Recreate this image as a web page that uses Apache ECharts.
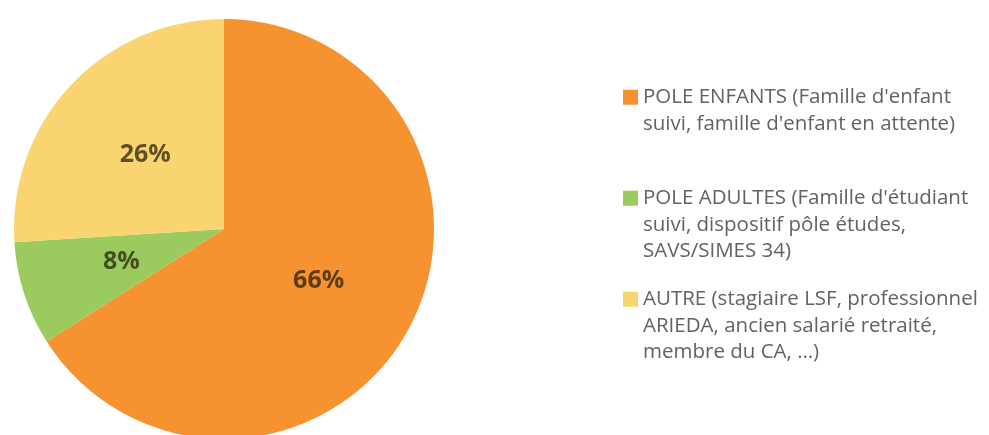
<!DOCTYPE html>
<html><head><meta charset="utf-8">
<script src="https://cdn.jsdelivr.net/npm/echarts@6/dist/echarts.min.js"></script>
<style>html,body{margin:0;padding:0;background:#fff}#c{width:989px;height:435px}</style>
</head><body><div id="c"></div>
<script>
const categories = ['POLE ENFANTS', 'POLE ADULTES', 'AUTRE'];
const legendTexts = [
  "POLE ENFANTS (Famille d'enfant\nsuivi, famille d'enfant en attente)\n ",
  "POLE ADULTES (Famille d'étudiant\nsuivi, dispositif pôle études,\nSAVS/SIMES 34)",
  "AUTRE (stagiaire LSF, professionnel\nARIEDA, ancien salarié retraité,\nmembre du CA, …)"
];
const values = [66, 8, 26];
const colors = ['#F6922F', '#9BCA5E', '#F9D470'];

// legend marker: square aligned with the first text line, inside a tall transparent box
const markerIcon = 'path://M0,0 L150,0 M0,57 L150,57 L150,207 L0,207 Z M0,795 L150,795';

const chart = echarts.init(document.getElementById('c'));
chart.setOption({
  animation: false,
  backgroundColor: '#fff',
  legend: {
    orient: 'vertical',
    left: 623, top: 84,
    padding: 0,
    itemWidth: 15, itemHeight: 79.5,
    itemGap: 21.5,
    symbolKeepAspect: false,
    itemStyle: { borderWidth: 0 },
    textStyle: { fontFamily: 'Open Sans', fontSize: 20.5, color: '#626262', lineHeight: 26.5 },
    formatter: function (name) { return legendTexts[categories.indexOf(name)]; },
    data: categories.map(c => ({ name: c, icon: markerIcon }))
  },
  series: [{
    type: 'pie',
    center: [224, 229],
    radius: [0, 210],
    startAngle: 90,
    clockwise: true,
    label: {
      position: 'inside',
      formatter: '{d}%',
      fontFamily: 'Open Sans',
      fontWeight: 'bold',
      fontSize: 25,
      color: 'rgba(35,28,10,0.72)'
    },
    labelLine: { show: false },
    itemStyle: { borderWidth: 0 },
    data: categories.map((c, i) => ({ name: c, value: values[i], itemStyle: { color: colors[i] } }))
  }]
});
</script></body></html>
